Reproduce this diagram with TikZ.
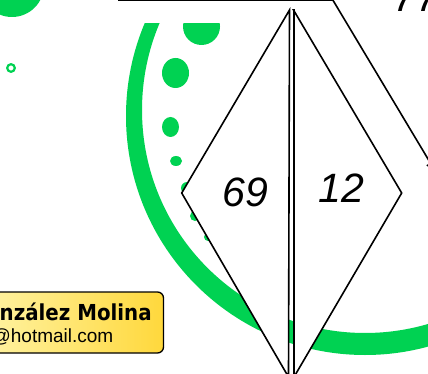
\documentclass[tikz,border=0pt]{standalone}
\usepackage{fontspec}
\setmainfont{Liberation Sans}
\newfontfamily\namefont[FakeStretch=0.9]{DejaVu Sans}
\newfontfamily\numfont{Liberation Sans}
\usetikzlibrary{arrows.meta}
\definecolor{dotgreen}{RGB}{0,210,82}
\definecolor{boxlight}{RGB}{255,242,160}
\definecolor{boxdark}{RGB}{255,216,60}
\tikzset{
  tri/.style={draw=black, fill=white, line width=1.6pt, line join=miter},
  numtext/.style={font=\numfont\itshape\fontsize{41}{41}\selectfont, inner sep=0pt, anchor=base},
  namebox/.style={draw=black, line width=1.3pt, rounded corners=6pt, left color=boxlight, right color=boxdark},
  conn/.style={draw=black, line width=1.6pt, -{Triangle[length=13pt,width=9pt]}}
}
\begin{document}
\begin{tikzpicture}[x=1pt,y=-1pt]
\useasboundingbox (0,0) rectangle (428,374);
\clip (0,0) rectangle (428,374);
\fill[white] (0,0) rectangle (428,374);
% top-left blob and ring
\fill[dotgreen] (12,-15) circle (32);
\draw[dotgreen, line width=2.2pt] (11,68) circle (3.8);
% green arc and dots (cut at the top)
\begin{scope}
  \clip (0,24) rectangle (428,374);
  \fill[dotgreen, even odd rule] (365,116) circle (239) (365,110) circle (223);
  \fill[dotgreen] (201.5,26.5) circle (18.5);
  \fill[dotgreen] (175.5,73) ellipse [x radius=13.5, y radius=15];
  \fill[dotgreen] (170.5,127) ellipse [x radius=8.5, y radius=10];
  \fill[dotgreen] (176,161) ellipse [x radius=6, y radius=5];
  \fill[dotgreen] (187,188) circle (6);
  \fill[dotgreen] (195,216) circle (5);
  \fill[dotgreen] (208,237) circle (4);
\end{scope}
% triangles
\draw[tri] (289.5,10) -- (181.7,193) -- (288.5,377) -- cycle;
\draw[tri] (293.5,10) -- (401.7,193) -- (294,377) -- (294,10) -- cycle;
\node[numtext] (n69) at (245.5,207) {69};
\node[numtext] (n12) at (341.5,202) {12};
\node[numtext, anchor=base west] (n77) at (393,12) {77};
% top line and connector
\coordinate (lineL) at (118,0.3);
\coordinate (lineR) at (333,0.3);
\coordinate (arrowtip) at (437,174);
\draw[black, line width=2pt] (lineL) -- (lineR);
\draw[conn] (lineR) -- (arrowtip);
% name box
\path[namebox] (-10,292) rectangle (163.5,353);
\node[font=\namefont\bfseries\fontsize{22}{22}\selectfont, inner sep=0pt, anchor=base west] (name) at (-0.5,320) {nzález Molina};
\node[font=\fontsize{19}{19}\selectfont, inner sep=0pt, anchor=base east] (mail) at (113.5,342) {@hotmail.com};
\end{tikzpicture}
\end{document}
